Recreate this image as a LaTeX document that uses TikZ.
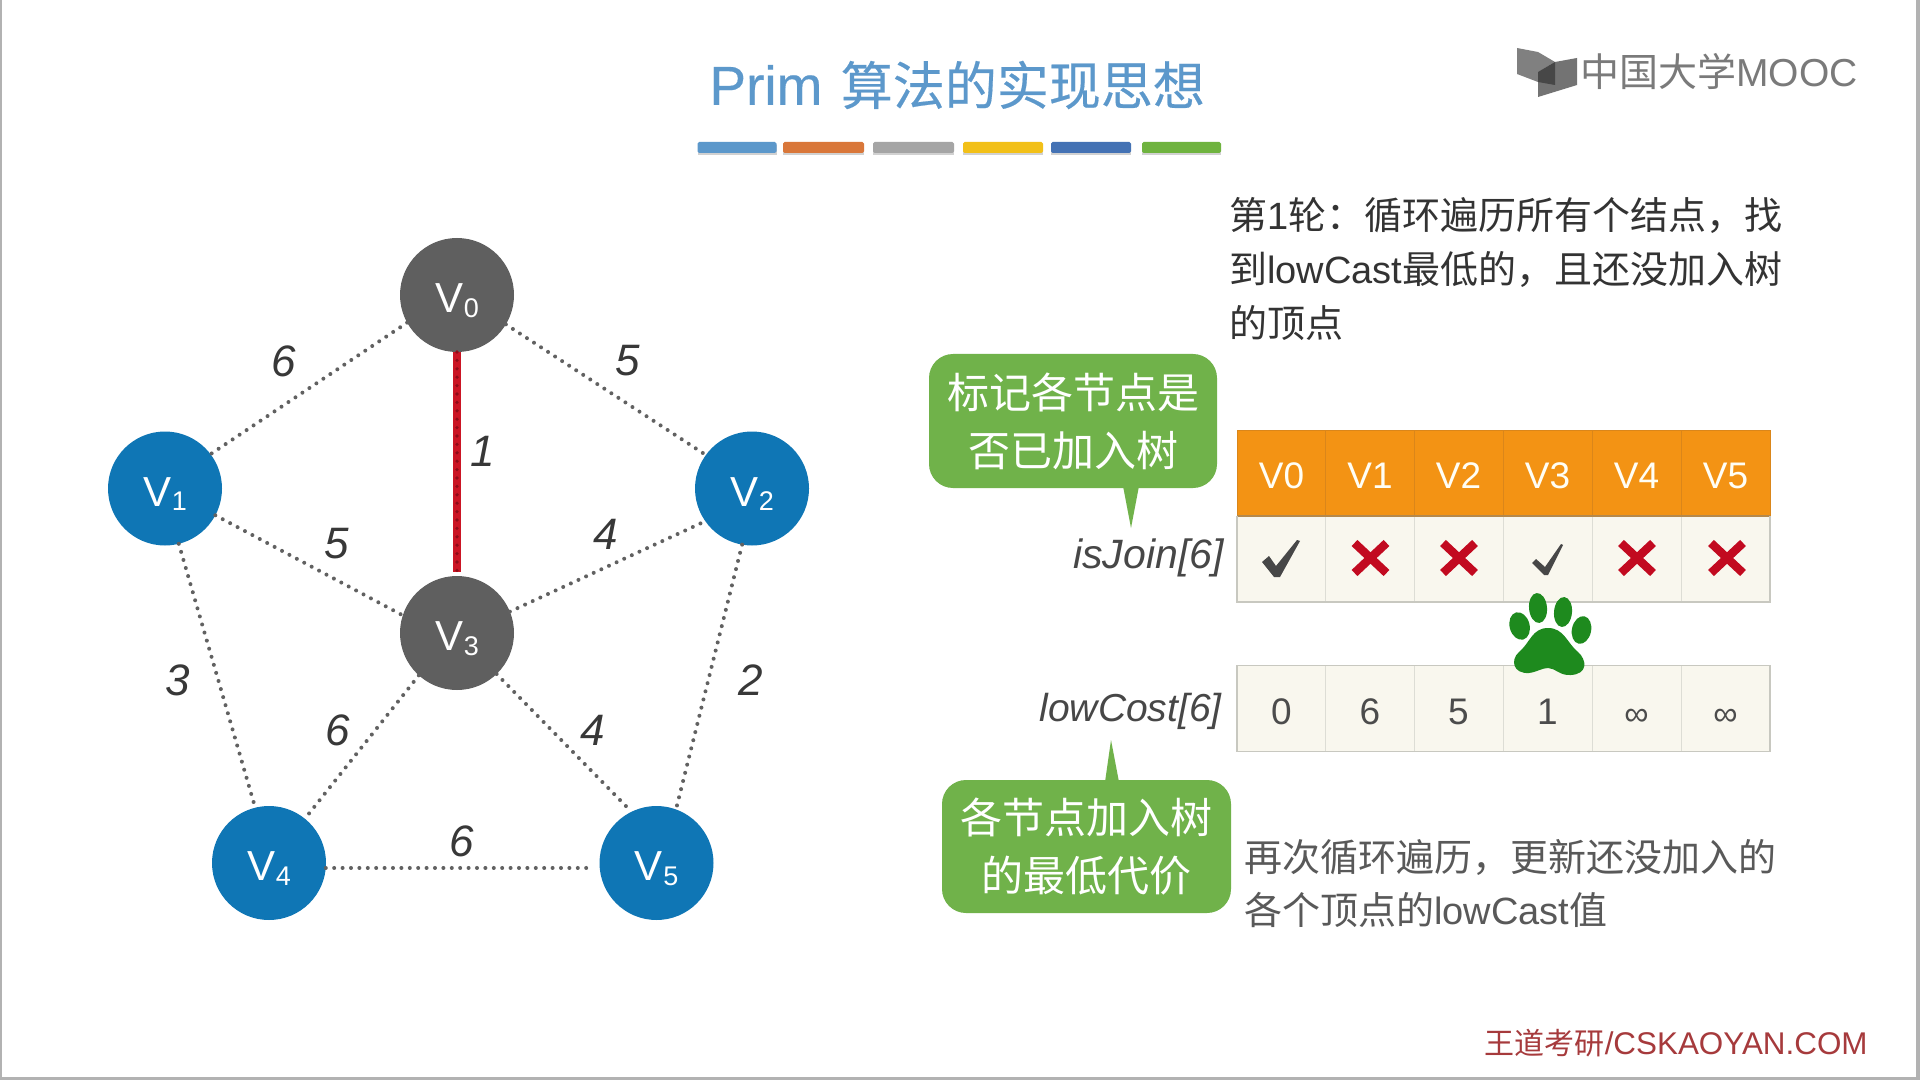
\documentclass[tikz,border=0pt]{standalone}
\usepackage{fontspec}
\setmainfont{Liberation Sans}
\newfontfamily\cjk{Noto Sans CJK SC}
\newfontfamily\cjkmed[FakeBold=0.35]{Noto Sans CJK SC}
\newfontfamily\latmed[FakeBold=0.35]{Liberation Sans}
\newcommand{\zh}[1]{{\cjk #1}}
\newcommand{\fs}[2]{\fontsize{#1}{#2}\selectfont}
\newcommand{\vsub}[1]{V\kern0.3pt{\fs{13.5}{14}\raisebox{-2.4pt}{#1}}}
\newcommand{\fwcomma}{\char"FF0C\relax}
\newcommand{\fwcolon}{\char"FF1A\relax}
\definecolor{nodegray}{HTML}{5F5F5F}
\definecolor{nodeblue}{HTML}{0F76B5}
\definecolor{hdr}{HTML}{F39314}
\definecolor{hdrline}{HTML}{DA861A}
\definecolor{hdrbase}{HTML}{B5894C}
\definecolor{cellbg}{HTML}{F9F7EE}
\definecolor{cellline}{HTML}{DDDDD5}
\definecolor{frameline}{HTML}{C8C8C0}
\definecolor{callgreen}{HTML}{70B24A}
\definecolor{xred}{HTML}{C20A20}
\definecolor{pawgreen}{HTML}{1E8A1E}
\definecolor{titleblue}{HTML}{5C98CB}
\definecolor{markred}{HTML}{A63A3C}
\definecolor{edgered}{HTML}{CB1524}
\definecolor{edgedark}{HTML}{8E0C18}
\definecolor{baro}{HTML}{D9773A}
\definecolor{barg}{HTML}{A5A5A5}
\definecolor{bary}{HTML}{F2C018}
\definecolor{barb}{HTML}{4472B4}
\definecolor{barn}{HTML}{6FB33F}
\tikzset{
  x=0.5pt,y=-0.5pt,
  vertex/.style={circle,inner sep=0pt,outer sep=0pt,minimum size=57pt,text=white,font=\fs{21}{24},text height=18pt,text depth=0.4pt},
  graynode/.style={vertex,fill=nodegray},
  bluenode/.style={vertex,fill=nodeblue},
  edgeline/.style={draw=black!62,line width=2pt,line cap=round,dash pattern=on 0pt off 4.2pt},
  weight/.style={inner sep=0pt,text=black!78,font=\fs{22}{24}\itshape},
  headcell/.style={rectangle,inner sep=0pt,outer sep=0pt,minimum width=44.5pt,minimum height=43pt,fill=hdr,draw=hdrline,line width=.5pt,text=white!96!yellow,font=\fs{18.5}{20},text height=15.7pt,text depth=0pt},
  bodycell/.style={rectangle,inner sep=0pt,outer sep=0pt,minimum width=44.5pt,minimum height=43pt,fill=cellbg,draw=cellline,line width=.5pt,text=black!70,font=\fs{18.5}{20},text height=15.7pt,text depth=0pt},
  callout/.style={rectangle,rounded corners=12pt,fill=callgreen,inner sep=0pt,outer sep=0pt,text=white,align=center,font=\cjk\fs{21}{29}},
  barline/.style={inner sep=0pt,outer sep=0pt,minimum height=5.5pt,rectangle,rounded corners=.8pt},
  crossmark/.style={draw=xred,line width=4.2pt},
  body/.style={inner sep=0pt,anchor=west,align=left},
  arrname/.style={inner sep=0pt,anchor=east,text=black!72},
  frameedge/.style={draw=frameline,line width=.9pt},
  baseedge/.style={draw=hdrbase,line width=1.2pt},
}
\begin{document}
\begin{tikzpicture}
\useasboundingbox (0,0) rectangle (1920,1080);
\fill[white] (0,0) rectangle (1920,1080);
% frame
\fill[black!30] (0,0) rectangle (2,1080);
\fill[black!30] (1916,0) rectangle (1920,1080);
\fill[black!30] (0,1077) rectangle (1920,1080);

% title
\node[inner sep=0pt,anchor=west,text=titleblue] (title) at (709,85) {{\latmed\fs{27.5}{28}Prim}\hspace{9.2pt}{\cjkmed\fs{26}{28}算法的实现思想}};
\foreach \bx/\bw in {737/39.5,823.5/40.5,913.5/40.5,1003/40,1091/40,1181.5/39.5}{
  \fill[black!18] (\bx-\bw,145) rectangle (\bx+\bw,155);
}
\node[barline,fill=titleblue,minimum width=39.5pt] (b1) at (737,147.5) {};
\node[barline,fill=baro,minimum width=40.5pt] (b2) at (823.5,147.5) {};
\node[barline,fill=barg,minimum width=40.5pt] (b3) at (913.5,147.5) {};
\node[barline,fill=bary,minimum width=40pt] (b4) at (1003,147.5) {};
\node[barline,fill=barb,minimum width=40pt] (b5) at (1091,147.5) {};
\node[barline,fill=barn,minimum width=39.5pt] (b6) at (1181.5,147.5) {};

% logo
\fill[black!50] (1517,48) -- (1538,52) -- (1555,62) -- (1538,72) -- (1538,82) -- (1517,74) -- cycle;
\fill[black!55] (1577,58) -- (1577,85) -- (1538,97) -- (1538,72) -- (1555,62) -- cycle;
\fill[black!72] (1538,72) -- (1555,62) -- (1555,85) -- (1538,82) -- cycle;
\node[inner sep=0pt,anchor=west,text=black!52,font=\fs{19.5}{22}] (logo) at (1580,72) {\zh{中国大学}MOOC};

% graph
\node[graynode] (v0) at (457,295) {\vsub{0}};
\node[bluenode] (v1) at (165,488.5) {\vsub{1}};
\node[bluenode] (v2) at (752,488.5) {\vsub{2}};
\node[graynode] (v3) at (457,633) {\vsub{3}};
\node[bluenode] (v4) at (269,863) {\vsub{4}};
\node[bluenode] (v5) at (656.5,863) {\vsub{5}};

\draw[edgeline] (v0.209) -- (v1.37);
\draw[edgeline] (v0.-31) -- (v2.144);
\draw[edgeline] (v1.-28) -- (v3.162);
\draw[edgeline] (v3.22) -- (v2.215);
\draw[edgeline] (v1.-76) -- (v4.104);
\draw[edgeline] (v3.228) -- (v4.51);
\draw[edgeline] (v3.-46) -- (v5.116);
\draw[edgeline] (v2.260) -- (v5.70);
\draw[edgeline,shorten >=3pt] (v4.-5) -- (v5.185);
\draw[draw=edgered,line width=3.6pt,shorten >=2pt] (v0.south) -- (v3.north);
\draw[draw=edgedark,line width=1.8pt,line cap=round,dash pattern=on 0pt off 4.2pt,shorten >=2pt] (v0.south) -- (v3.north);

\node[weight] (w1) at (284,361) {6};
\node[weight] (w2) at (628,361) {5};
\node[weight] (w3) at (483,451) {1};
\node[weight] (w4) at (337,544) {5};
\node[weight] (w5) at (606,534) {4};
\node[weight] (w6) at (178,680) {3};
\node[weight] (w7) at (751,680) {2};
\node[weight] (w8) at (338,730) {6};
\node[weight] (w9) at (593,730) {4};
\node[weight] (w10) at (462,841) {6};

% right text
\node[body,text=black!80,font=\fs{19}{27}] (t1) at (1229,269)
  {\zh{第}1\zh{轮\fwcolon 循环遍历所有个结点\fwcomma 找}\\\zh{到}lowCast\zh{最低的\fwcomma 且还没加入树}\\\zh{的顶点}};
\node[body,text=black!65,font=\fs{19}{26.5}] (t2) at (1244,884)
  {\zh{再次循环遍历\fwcomma 更新还没加入的}\\\zh{各个顶点的}lowCast\zh{值}};

% table
\foreach \i/\cx in {0/1281.5,1/1370,2/1458.5,3/1547.5,4/1636.5,5/1725.5}{
  \node[headcell] (h\i) at (\cx,473) {V\i};
  \node[bodycell] (j\i) at (\cx,559) {};
}
\foreach \i/\cx/\val in {0/1281.5/0,1/1370/6,2/1458.5/5,3/1547.5/1}{
  \node[bodycell] (c\i) at (\cx,708.5) {\val};
}
\foreach \i/\cx in {4/1636.5,5/1725.5}{
  \node[bodycell,font=\fs{17}{18},text height=17.2pt] (c\i) at (\cx,708.5) {∞};
}
\draw[baseedge] (h0.south west) -- (h5.south east);
\draw[frameedge] (j0.north west) -- (j0.south west) -- (j5.south east) -- (j5.north east);
\draw[frameedge] (c0.south west) rectangle (c5.north east);
% marks
\fill[black!72] (1262,562) -- (1269,556) -- (1276,566) -- (1297,540) -- (1300,541) -- (1280,577) -- (1274,577) -- cycle;
\fill[black!72] (1532,563) -- (1536,559) -- (1545,567) -- (1561,544) -- (1563,545) -- (1548,575) -- (1544,575) -- cycle;
\foreach \mx in {1370.5,1459,1637,1727}{
  \draw[crossmark] (\mx-16,558-15) -- (\mx+16,558+15);
  \draw[crossmark] (\mx-16,558+15) -- (\mx+16,558-15);
}
% paw
\fill[pawgreen] (1519.6,626) ellipse [x radius=5pt,y radius=7pt,rotate=15];
\fill[pawgreen] (1538,608) ellipse [x radius=4.5pt,y radius=7.5pt,rotate=5];
\fill[pawgreen] (1563,612) ellipse [x radius=4.5pt,y radius=7.5pt,rotate=-5];
\fill[pawgreen] (1581.5,630) ellipse [x radius=4.8pt,y radius=7pt,rotate=-12];
\fill[pawgreen] (1548,628) .. controls (1532,628) and (1530,643) .. (1519,652)
  .. controls (1510,660) and (1513,674) .. (1529,673)
  .. controls (1537,672) and (1542,668) .. (1548,668)
  .. controls (1555,668) and (1560,676) .. (1571,675)
  .. controls (1588,674) and (1587,660) .. (1578,652)
  .. controls (1567,643) and (1564,628) .. (1548,628) -- cycle;

% array names
\node[arrname,font=\fs{20.5}{22}\itshape] (n1) at (1224,558) {isJoin[6]};
\node[arrname,font=\fs{19.5}{22}\itshape] (n2) at (1222,711) {lowCost[6]};

% callouts
\node[callout,minimum width=144pt,minimum height=67pt] (c1) at (1073,421) {标记各节点是\\否已加入树};
\fill[callgreen] (1123,486) -- (1131,528) -- (1139,486) -- cycle;
\node[callout,minimum width=144.5pt,minimum height=66.5pt] (c2) at (1086.5,846.5) {各节点加入树\\的最低代价};
\fill[callgreen] (1105,782) -- (1111,740) -- (1119,782) -- cycle;

% footer
\node[inner sep=0pt,anchor=east,text=markred,font=\fs{15.7}{18}] (mark) at (1868,1043) {{\cjk\fs{15}{18}王道考研}/CSKAOYAN.COM};
\end{tikzpicture}
\end{document}
